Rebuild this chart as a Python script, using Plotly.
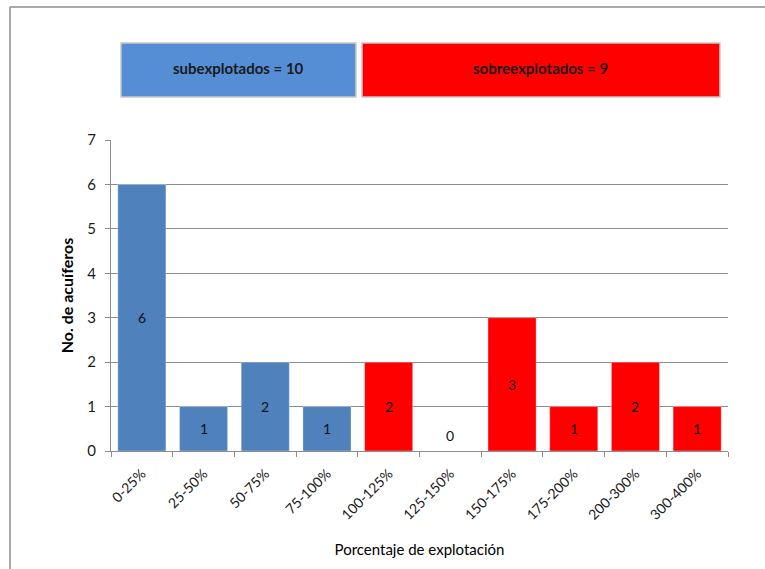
import plotly.graph_objects as go

# Aquifer counts by exploitation percentage range
categories = ["0-25%", "25-50%", "50-75%", "75-100%", "100-125%",
              "125-150%", "150-175%", "175-200%", "200-300%", "300-400%"]
counts = [6, 1, 2, 1, 2, 0, 3, 1, 2, 1]
groups = ["sub", "sub", "sub", "sub", "sobre",
          "sobre", "sobre", "sobre", "sobre", "sobre"]

group_labels = {"sub": "subexplotados = 10", "sobre": "sobreexplotados = 9"}
bar_colors = {"sub": "#4F81BD", "sobre": "#FF0000"}
box_colors = {"sub": "#558ED5", "sobre": "#FF0000"}

FONT = "Lato"

fig = go.Figure()
fig.add_trace(go.Bar(
    x=categories,
    y=counts,
    width=0.78,
    marker=dict(color=[bar_colors[g] for g in groups],
                line=dict(color="rgba(255,255,255,0.35)", width=1)),
    hoverinfo="x+y",
    showlegend=False,
))

# value labels centred in each bar (empty bins get the label just above the base)
for cat, v in zip(categories, counts):
    fig.add_annotation(x=cat, y=(v / 2 if v > 0 else 0.36), text=str(v),
                       showarrow=False, font=dict(family=FONT, size=14, color="#111"))

# group header boxes above the plot
boxes = [("sub", 0.0162, 0.397), ("sobre", 0.4068, 0.987)]
for g, x0, x1 in boxes:
    fig.add_shape(type="rect", xref="paper", yref="paper",
                  x0=x0, x1=x1, y0=1.138, y1=1.312,
                  fillcolor=box_colors[g], line=dict(color="#C8C8C8", width=1.5))
    fig.add_annotation(xref="paper", yref="paper", x=(x0 + x1) / 2, y=1.232,
                       xanchor="center", yanchor="middle",
                       text="<b>%s</b>" % group_labels[g], showarrow=False,
                       font=dict(family=FONT, size=15, color="#1a1a1a"))

# outer frame (top and left edges)
fig.add_shape(type="line", xref="paper", yref="paper",
              x0=-0.1637, x1=1.07, y0=1.4277, y1=1.4277,
              line=dict(color="#8C8C8C", width=1.5))
fig.add_shape(type="line", xref="paper", yref="paper",
              x0=-0.1637, x1=-0.1637, y0=1.4277, y1=-0.4,
              line=dict(color="#8C8C8C", width=1.5))

fig.update_layout(
    width=765, height=569,
    margin=dict(l=111, r=37, t=140, b=118),
    paper_bgcolor="white", plot_bgcolor="white",
    font=dict(family=FONT, size=13, color="#222"),
    bargap=0.22,
    xaxis=dict(
        type="category",
        tickangle=-45,
        tickfont=dict(family=FONT, size=14, color="#1a1a1a"),
        ticklabelstandoff=8,
        showline=True, linecolor="#8C8C8C", linewidth=1,
        ticks="outside", tickson="boundaries", ticklen=5, tickcolor="#8C8C8C",
        showgrid=False,
        title=dict(text="Porcentaje de explotación",
                   font=dict(family=FONT, size=15, color="#000"), standoff=22),
    ),
    yaxis=dict(
        range=[0, 7], dtick=1,
        tickfont=dict(family=FONT, size=15, color="#1a1a1a"),
        ticklabelstandoff=6,
        showline=True, linecolor="#8C8C8C", linewidth=1,
        ticks="outside", ticklen=5, tickcolor="#8C8C8C",
        showgrid=True, gridcolor="#8C8C8C", gridwidth=1,
        zeroline=False,
        title=dict(text="<b>No. de acuíferos</b>",
                   font=dict(family=FONT, size=16, color="#000"), standoff=9),
    ),
)

fig.write_html("out.html")
